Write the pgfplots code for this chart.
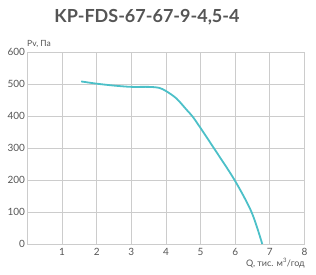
\documentclass[border=0pt]{standalone}
\usepackage{pgfplots}
\pgfplotsset{compat=1.18}
\usepackage{fontspec}
\setmainfont{Lato}
\definecolor{curve}{HTML}{4CC0C8}
\definecolor{gridc}{HTML}{CCCCCC}
\definecolor{txt}{HTML}{555555}
\begin{document}
\begin{tikzpicture}
\useasboundingbox (0,0) rectangle (316pt,275pt);
\begin{axis}[
  at={(27.5pt,31pt)}, anchor=south west,
  scale only axis, width=277pt, height=192pt,
  xmin=0, xmax=8, ymin=0, ymax=600,
  xtick={1,...,8}, ytick={0,100,...,600},
  grid=major, major grid style={gridc, line width=0.9pt},
  axis line style={gridc, line width=0.9pt},
  tick style={draw=none},
  ticklabel style={font=\fontsize{10}{11}\selectfont, text=txt},
  /pgf/number format/assume math mode=true,
  xticklabel style={yshift=-1pt},
  yticklabel style={xshift=1pt},
  clip=false,
]
\addplot[curve, line width=1.8pt, smooth, tension=0.5] coordinates {
 (1.55,508) (2,501) (2.5,495) (3,491) (3.5,491) (3.8,488) (4,478) (4.3,455) (4.59,420) (4.77,398) (5,362) (5.38,300) (5.98,200) (6.47,100) (6.78,0)
};
\end{axis}
\node[anchor=center, text=txt, font=\bfseries\fontsize{18}{19}\selectfont] at (147pt,258pt) {KP-FDS-67-67-9-4,5-4};
\node[anchor=west, text=txt, font=\fontsize{8.5}{9}\selectfont, inner sep=0pt] at (27pt,231pt) {Pv, Па};
\node[anchor=east, text=txt, font=\fontsize{9}{9}\selectfont, inner sep=0pt] at (305pt,12pt) {Q, тис. м\textsuperscript{3}/год};
\end{tikzpicture}
\end{document}
